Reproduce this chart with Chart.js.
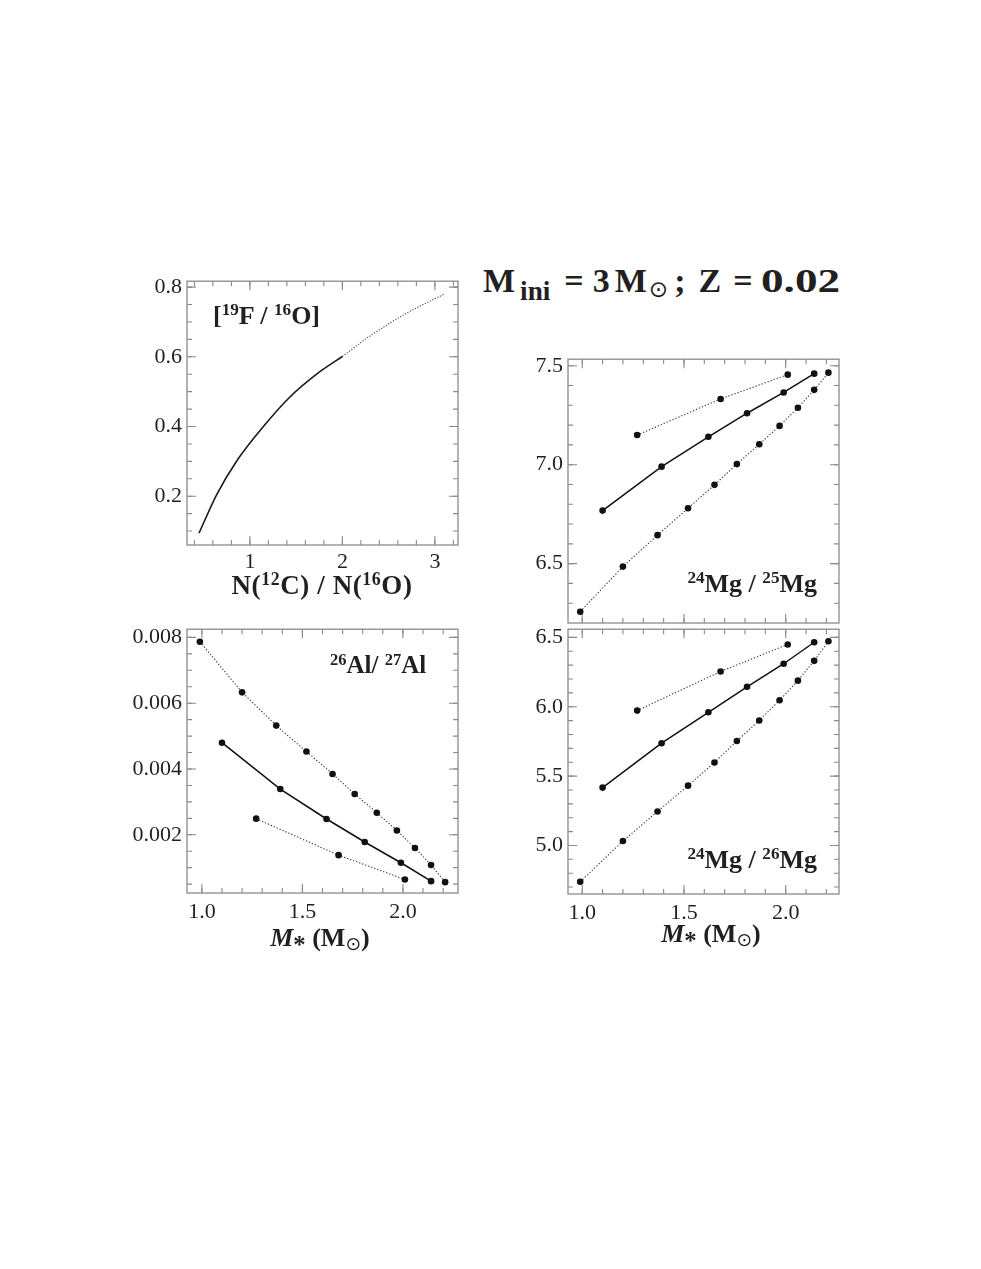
<!DOCTYPE html>
<html><head><meta charset="utf-8">
<script src="https://cdn.jsdelivr.net/npm/chart.js@4/dist/chart.umd.min.js"></script>
<style>
html,body{margin:0;padding:0;background:#fff;}
body{width:981px;height:1269px;position:relative;overflow:hidden;font-family:"Liberation Serif","Times New Roman",serif;}
canvas{position:absolute;}
.lbl{position:absolute;font-weight:bold;color:#231f20;white-space:nowrap;line-height:1;}
.lbl sup{font-size:0.66em;vertical-align:0.5em;line-height:0;}
.lbl sub{font-size:0.66em;vertical-align:-0.25em;line-height:0;}
.sun{font-family:"DejaVu Sans",sans-serif;font-weight:normal;}
</style></head><body>
<canvas id="cTL"></canvas>
<canvas id="cTR"></canvas>
<canvas id="cBL"></canvas>
<canvas id="cBR"></canvas>

<div class="lbl" id="tTitle" style="font-size:34px;">M<sub style="font-size:0.8em;margin-left:5px;vertical-align:-0.28em">ini</sub><span style="margin-left:14px">=</span><span style="margin-left:9px">3</span><span style="margin-left:5px">M</span><sub class="sun" style="font-size:0.68em;vertical-align:-0.2em;margin-left:2px">⊙</sub><span style="margin-left:6px">;</span><span style="margin-left:13px">Z</span><span style="margin-left:12px">=</span><span style="margin-left:8px;display:inline-block;transform:scaleX(1.33);transform-origin:0 50%">0.02</span></div>
<div class="lbl" id="tFO" style="font-size:26px;">[<sup>19</sup>F / <sup>16</sup>O]</div>
<div class="lbl" id="tCO" style="font-size:27px;letter-spacing:0.6px">N(<sup>12</sup>C) / N(<sup>16</sup>O)</div>
<div class="lbl" id="tMg25" style="font-size:26px;"><sup>24</sup>Mg / <sup>25</sup>Mg</div>
<div class="lbl" id="tAl" style="font-size:25px;"><sup>26</sup>Al/ <sup>27</sup>Al</div>
<div class="lbl" id="tMg26" style="font-size:26px;"><sup>24</sup>Mg / <sup>26</sup>Mg</div>
<div class="lbl" id="tMbl" style="font-size:26px;"><i>M</i><sub style="font-size:0.95em;vertical-align:-0.3em">*</sub> (M<sub class="sun" style="font-size:0.72em;vertical-align:-0.2em">⊙</sub>)</div>
<div class="lbl" id="tMbr" style="font-size:26px;"><i>M</i><sub style="font-size:0.95em;vertical-align:-0.3em">*</sub> (M<sub class="sun" style="font-size:0.72em;vertical-align:-0.2em">⊙</sub>)</div>

<script>
// ---------------- DATA ----------------
// [19F/16O] vs N(12C)/N(16O)
const coSolid = [0.45, 0.64, 0.87, 1.13, 1.43, 1.76, 2.00];
const foSolid = [0.094, 0.204, 0.306, 0.395, 0.484, 0.558, 0.601];
const coDotted = [2.00, 2.30, 2.70, 3.11];
const foDotted = [0.601, 0.660, 0.726, 0.781];

// stellar masses M* (Msun) for the three sequences
const massA = [1.27, 1.68, 2.01];
const massB = [1.10, 1.39, 1.62, 1.81, 1.99, 2.14];
const massC = [0.99, 1.20, 1.37, 1.52, 1.65, 1.76, 1.87, 1.97, 2.06, 2.14, 2.21];

// 24Mg/25Mg
const mg25A = [7.150, 7.332, 7.455];
const mg25B = [6.768, 6.990, 7.141, 7.260, 7.365, 7.460];
const mg25C = [6.257, 6.485, 6.644, 6.780, 6.898, 7.003, 7.103, 7.196, 7.288, 7.378, 7.465];

// 24Mg/26Mg
const mg26A = [5.972, 6.254, 6.449];
const mg26B = [5.417, 5.737, 5.960, 6.144, 6.310, 6.465];
const mg26C = [4.738, 5.032, 5.245, 5.431, 5.598, 5.753, 5.901, 6.047, 6.188, 6.331, 6.472];

// 26Al/27Al
const alA = [0.00249, 0.00138, 0.00064];
const alB = [0.00480, 0.00339, 0.00248, 0.00178, 0.00115, 0.00059];
const alC = [0.00787, 0.00633, 0.00532, 0.00453, 0.00385, 0.00324, 0.00267, 0.00213, 0.00160, 0.00108, 0.00056];

// tick values / labels
const coTicks = [1, 2, 3];
const foTicks = [0.2, 0.4, 0.6, 0.8];
const massTicks = [1.0, 1.5, 2.0];
const mg25Ticks = [6.5, 7.0, 7.5];
const mg26Ticks = [5.0, 5.5, 6.0, 6.5];
const alTicks = [0.002, 0.004, 0.006, 0.008];

// ---------------- HELPERS ----------------
function pts(xs, ys){ return xs.map((x,i)=>({x:x, y:ys[i]})); }
function range(a, b, step){ const r=[]; for(let v=a; v<=b+step*1e-6; v+=step) r.push(Math.round(v/step)*step); return r; }

const FONT = "'Liberation Serif','Times New Roman',serif";
const FRAME = '#8a8a8a';

const frameTicks = {
  id:'frameTicks',
  beforeDatasetsDraw(chart, args, o){
    const {ctx, chartArea:a} = chart;
    const xs = chart.scales.x, ys = chart.scales.y;
    ctx.save();
    ctx.strokeStyle = FRAME; ctx.lineWidth = 1.3;
    ctx.strokeRect(a.left, a.top, a.right-a.left, a.bottom-a.top);
    ctx.lineWidth = 1.1;
    const tick = (vals, len, isX) => {
      vals.forEach(v=>{
        if(isX){
          const p = xs.getPixelForValue(v);
          if(p < a.left+1 || p > a.right-1) return;
          ctx.beginPath(); ctx.moveTo(p, a.bottom); ctx.lineTo(p, a.bottom-len);
          ctx.moveTo(p, a.top); ctx.lineTo(p, a.top+len); ctx.stroke();
        } else {
          const p = ys.getPixelForValue(v);
          if(p < a.top+1 || p > a.bottom-1) return;
          ctx.beginPath(); ctx.moveTo(a.left, p); ctx.lineTo(a.left+len, p);
          ctx.moveTo(a.right, p); ctx.lineTo(a.right-len, p); ctx.stroke();
        }
      });
    };
    tick(o.xMinor||[], 5, true); tick(o.xMajor||[], 9, true);
    tick(o.yMinor||[], 5, false); tick(o.yMajor||[], 9, false);
    ctx.restore();
  }
};

const PAD_L = 80, PAD_T = 12, PAD_R = 12, X_H = 45;

function solidSet(xs, ys){
  return {data:pts(xs,ys), showLine:true, borderColor:'#111', borderWidth:1.5,
    pointRadius:3.3, pointBackgroundColor:'#111', pointBorderWidth:0};
}
function dotSet(xs, ys){
  return {data:pts(xs,ys), showLine:true, borderColor:'#3a3a3a', borderWidth:1.1, borderDash:[1.3,1.9],
    pointRadius:3.3, pointBackgroundColor:'#111', pointBorderWidth:0};
}

function makePanel(id, box, datasets, sx, sy, tk){
  const [L,T,R,B] = box;
  const cv = document.getElementById(id);
  const w = (R-L) + PAD_L + PAD_R, h = (B-T) + PAD_T + X_H;
  cv.width = w; cv.height = h;
  cv.style.left = (L-PAD_L)+'px'; cv.style.top = (T-PAD_T)+'px';
  cv.style.width = w+'px'; cv.style.height = h+'px';
  new Chart(cv.getContext('2d'), {
    type:'scatter',
    data:{datasets},
    options:{
      responsive:false, animation:false, devicePixelRatio:1,
      layout:{padding:{left:0, top:PAD_T, right:PAD_R, bottom:0}},
      plugins:{legend:{display:false}, tooltip:{enabled:false}, frameTicks:tk},
      scales:{
        x:{type:'linear', min:sx.min, max:sx.max,
          grid:{display:false, drawTicks:false}, border:{display:false},
          afterFit:(s)=>{ s.height = X_H; },
          afterBuildTicks:(s)=>{ s.ticks = sx.ticks.map(v=>({value:v})); },
          ticks:{display:sx.show, autoSkip:false, maxRotation:0, padding:sx.pad, color:'#231f20',
            font:{family:FONT, size:22}, callback:(v)=>v.toFixed(sx.dec)}},
        y:{type:'linear', min:sy.min, max:sy.max,
          grid:{display:false, drawTicks:false}, border:{display:false},
          afterFit:(s)=>{ s.width = PAD_L; },
          afterBuildTicks:(s)=>{ s.ticks = sy.ticks.map(v=>({value:v})); },
          ticks:{autoSkip:false, padding:5, color:'#231f20',
            font:{family:FONT, size:22}, callback:(v)=>v.toFixed(sy.dec)}}
      }
    },
    plugins:[frameTicks]
  });
}

// ---------------- PANELS ----------------
// top-left: [19F/16O]
makePanel('cTL', [187,275,458,545], [
  {data:pts(coSolid, foSolid), showLine:true, borderColor:'#1a1a1a', borderWidth:1.6, pointRadius:0,
   cubicInterpolationMode:'monotone'},
  {data:pts(coDotted, foDotted), showLine:true, borderColor:'#555', borderWidth:1.2, borderDash:[1.2,1.6], pointRadius:0,
   cubicInterpolationMode:'monotone'}
], {min:0.32, max:3.25, ticks:coTicks, dec:0, show:true, pad:4},
   {min:0.06, max:0.817, ticks:foTicks, dec:1},
   {xMajor:coTicks, xMinor:range(0.4,3.2,0.2), yMajor:foTicks, yMinor:range(0.1,0.8,0.05)});

// top-right: 24Mg/25Mg
makePanel('cTR', [568,353,839,623], [
  dotSet(massA, mg25A), solidSet(massB, mg25B), dotSet(massC, mg25C)
], {min:0.93, max:2.262, ticks:massTicks, dec:1, show:false, pad:6},
   {min:6.2, max:7.533, ticks:mg25Ticks, dec:1},
   {xMajor:massTicks, xMinor:range(1.0,2.2,0.1), yMajor:mg25Ticks, yMinor:range(6.3,7.5,0.1)});

// bottom-left: 26Al/27Al
makePanel('cBL', [187,623,458,893], [
  dotSet(massA, alA), solidSet(massB, alB), dotSet(massC, alC)
], {min:0.926, max:2.274, ticks:massTicks, dec:1, show:true, pad:6},
   {min:0.00023, max:0.00825, ticks:alTicks, dec:3},
   {xMajor:massTicks, xMinor:range(1.0,2.2,0.1), yMajor:alTicks, yMinor:range(0.0005,0.008,0.0005)});

// bottom-right: 24Mg/26Mg
makePanel('cBR', [568,623,839,894], [
  dotSet(massA, mg26A), solidSet(massB, mg26B), dotSet(massC, mg26C)
], {min:0.93, max:2.262, ticks:massTicks, dec:1, show:true, pad:6},
   {min:4.65, max:6.559, ticks:mg26Ticks, dec:1},
   {xMajor:massTicks, xMinor:range(1.0,2.2,0.1), yMajor:mg26Ticks, yMinor:range(4.7,6.5,0.1)});

// ---------------- TEXT PLACEMENT (baseline-based) ----------------
function place(id, x, baseline, align){
  const el = document.getElementById(id);
  const fs = parseFloat(el.style.fontSize);
  el.style.top = (baseline - 0.84*fs) + 'px';
  const w = el.getBoundingClientRect().width;
  let left = x;
  if(align==='center') left = x - w/2; else if(align==='right') left = x - w;
  el.style.left = left + 'px';
}
place('tTitle', 483, 293, 'left');
place('tFO', 213, 325, 'left');
place('tCO', 322, 595, 'center');
place('tMg25', 817, 593, 'right');
place('tAl', 330, 673, 'left');
place('tMg26', 817, 869, 'right');
place('tMbl', 320, 947, 'center');
place('tMbr', 711, 943, 'center');
</script>
</body></html>
